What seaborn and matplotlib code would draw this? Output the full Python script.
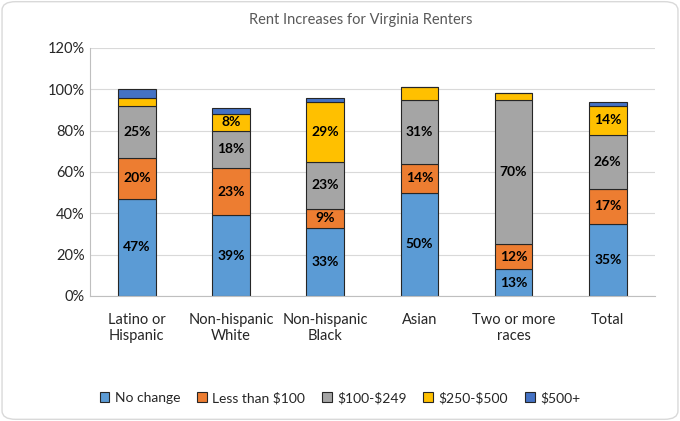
import numpy as np
import pandas as pd
import matplotlib.pyplot as plt
import seaborn as sns
from matplotlib.patches import FancyBboxPatch

sns.set_style("white")
plt.rcParams['font.family'] = ['Lato', 'DejaVu Sans']
plt.rcParams['text.parse_math'] = False

groups = ['Latino or\nHispanic', 'Non-hispanic\nWhite', 'Non-hispanic\nBlack',
          'Asian', 'Two or more\nraces', 'Total']
levels = ['No change', 'Less than $100', '$100-$249', '$250-$500', '$500+']
no_change = [47, 39, 33, 50, 13, 35]
less_100 = [20, 23, 9, 14, 12, 17]
mid_100_249 = [25, 18, 23, 31, 70, 26]
mid_250_500 = [4, 8, 29, 6, 3, 14]
over_500 = [4, 3, 2, 0, 0, 2]

colors = ['#5B9BD5', '#ED7D31', '#A5A5A5', '#FFC000', '#4472C4']
series = [no_change, less_100, mid_100_249, mid_250_500, over_500]

fig = plt.figure(figsize=(6.8, 4.21), dpi=100)
ax = fig.add_axes([0.132, 0.297, 0.831, 0.589])

bottom = np.zeros(len(groups))
for name, vals, col in zip(levels, series, colors):
    vals = np.array(vals, dtype=float)
    df = pd.DataFrame({'group': groups, 'value': vals})
    sns.barplot(data=df, x='group', y='value', color=col, bottom=bottom,
                width=0.4, edgecolor='#262626', linewidth=0.8,
                label=name, ax=ax, saturation=1)
    for i, v in enumerate(vals):
        if v >= 8:
            ax.text(i, bottom[i] + v / 2, f'{int(v)}%', ha='center', va='center',
                    fontsize=10, fontweight='bold', color='black')
    bottom += vals

ax.set_ylim(0, 120)
ax.set_yticks(range(0, 121, 20))
ax.set_yticklabels([f'{t}%' for t in range(0, 121, 20)], fontsize=10.5, color='#262626')
ax.tick_params(axis='x', labelsize=10.5, colors='#262626', length=0, pad=12)
ax.tick_params(axis='y', length=0)
ax.set_xlabel('')
ax.set_ylabel('')
ax.set_xlim(-0.5, len(groups) - 0.5)
ax.yaxis.grid(True, color='#D9D9D9', linewidth=0.8)
ax.set_axisbelow(True)
for s in ['top', 'right']:
    ax.spines[s].set_visible(False)
ax.spines['left'].set_color('#BFBFBF')
ax.spines['bottom'].set_color('#BFBFBF')

fig.text(0.53, 0.953, 'Rent Increases for Virginia Renters', ha='center', va='center',
         fontsize=10.5, color='#595959')

ax.legend(loc='center', bbox_to_anchor=(0.5, 0.055), bbox_transform=fig.transFigure,
          ncol=5, frameon=False, fontsize=10, handlelength=0.7, handleheight=0.7,
          columnspacing=1.2, handletextpad=0.4)

fig.patches.append(FancyBboxPatch((0.003, 0.004), 0.994, 0.992,
                                  boxstyle='round,pad=0,rounding_size=0.02',
                                  transform=fig.transFigure, fill=False,
                                  edgecolor='#D9D9D9', linewidth=1))

fig.savefig('out.png', dpi=100)
